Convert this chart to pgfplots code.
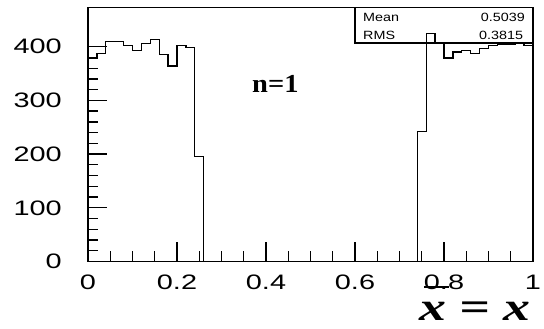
\documentclass[border=0pt]{standalone}
\usepackage{pgfplots}
\pgfplotsset{compat=1.18}
\usepackage{fontspec}
\setmainfont{Liberation Sans}
\newfontfamily\tickfont[FakeStretch=1.38]{Liberation Sans}
\newfontfamily\statfont[FakeStretch=1.2]{Liberation Sans}
\newfontfamily\annfont[FakeStretch=1.1]{Liberation Serif}
\newfontfamily\varfont[FakeStretch=1.35]{Liberation Serif}

\begin{document}
\begin{tikzpicture}
\path[use as bounding box] (0,0) rectangle (544bp,329bp);
\begin{axis}[
  at={(88bp,67.5bp)}, anchor=south west,
  width=445bp, height=254bp, scale only axis,
  xmin=0, xmax=1, ymin=0, ymax=473,
  xtick={0,0.2,0.4,0.6,0.8,1},
  xticklabels={0,0.2,0.4,0.6,0.8,1},
  ytick={0,100,200,300,400},
  minor x tick num=3, minor y tick num=4,
  tick align=inside, tick pos=left,
  major tick length=19bp, minor tick length=10bp,
  axis line style={line width=1.6bp},
  every tick/.style={line width=1.3bp, black},
  /pgf/number format/assume math mode=true,
  tick label style={font=\tickfont\fontsize{21}{24}\selectfont, inner sep=0pt},
  yticklabel style={anchor=east, xshift=-26bp},
  xticklabel style={anchor=north, yshift=-13.5bp},
  clip=false,
]
% statistics box
\draw[line width=1.3bp] (rel axis cs:0.6,0.86) rectangle (rel axis cs:1,1);
\node[anchor=west, inner sep=0pt, font=\statfont\fontsize{12}{14}\selectfont]
  at (rel axis cs:0.618,0.961) {Mean};
\node[anchor=east, inner sep=0pt, font=\statfont\fontsize{12}{14}\selectfont]
  at (rel axis cs:0.982,0.961) {0.5039};
\node[anchor=west, inner sep=0pt, font=\statfont\fontsize{12}{14}\selectfont]
  at (rel axis cs:0.618,0.889) {RMS};
\node[anchor=east, inner sep=0pt, font=\statfont\fontsize{12}{14}\selectfont]
  at (rel axis cs:0.978,0.889) {0.3815};
% histogram, 50 bins of width 0.02
\addplot[const plot, line width=1.3bp, black] coordinates {
  (0.00,378) (0.02,387) (0.04,410) (0.06,410) (0.08,402) (0.10,393)
  (0.12,406) (0.14,413) (0.16,385) (0.18,364) (0.20,402) (0.22,399)
  (0.24,195) (0.26,0) (0.28,0) (0.30,0) (0.32,0) (0.34,0) (0.36,0)
  (0.38,0) (0.40,0) (0.42,0) (0.44,0) (0.46,0) (0.48,0) (0.50,0)
  (0.52,0) (0.54,0) (0.56,0) (0.58,0) (0.60,0) (0.62,0) (0.64,0)
  (0.66,0) (0.68,0) (0.70,0) (0.72,0) (0.74,242) (0.76,425) (0.78,406)
  (0.80,379) (0.82,390) (0.84,393) (0.86,387) (0.88,397) (0.90,402)
  (0.92,405) (0.94,405) (0.96,408) (0.98,402) (1.00,402)
};
\node[font=\annfont\bfseries\fontsize{26}{28}\selectfont, inner sep=0pt]
  at (axis cs:0.421,330) {n=1};
\end{axis}
\node[anchor=base west, inner sep=0pt, font=\varfont\bfseries\itshape\fontsize{40}{44}\selectfont]
  at (419bp,9bp) {\rlap{\kern5bp\raisebox{32bp}{\rule{25bp}{1.8bp}}}x = x};
\end{tikzpicture}
\end{document}
